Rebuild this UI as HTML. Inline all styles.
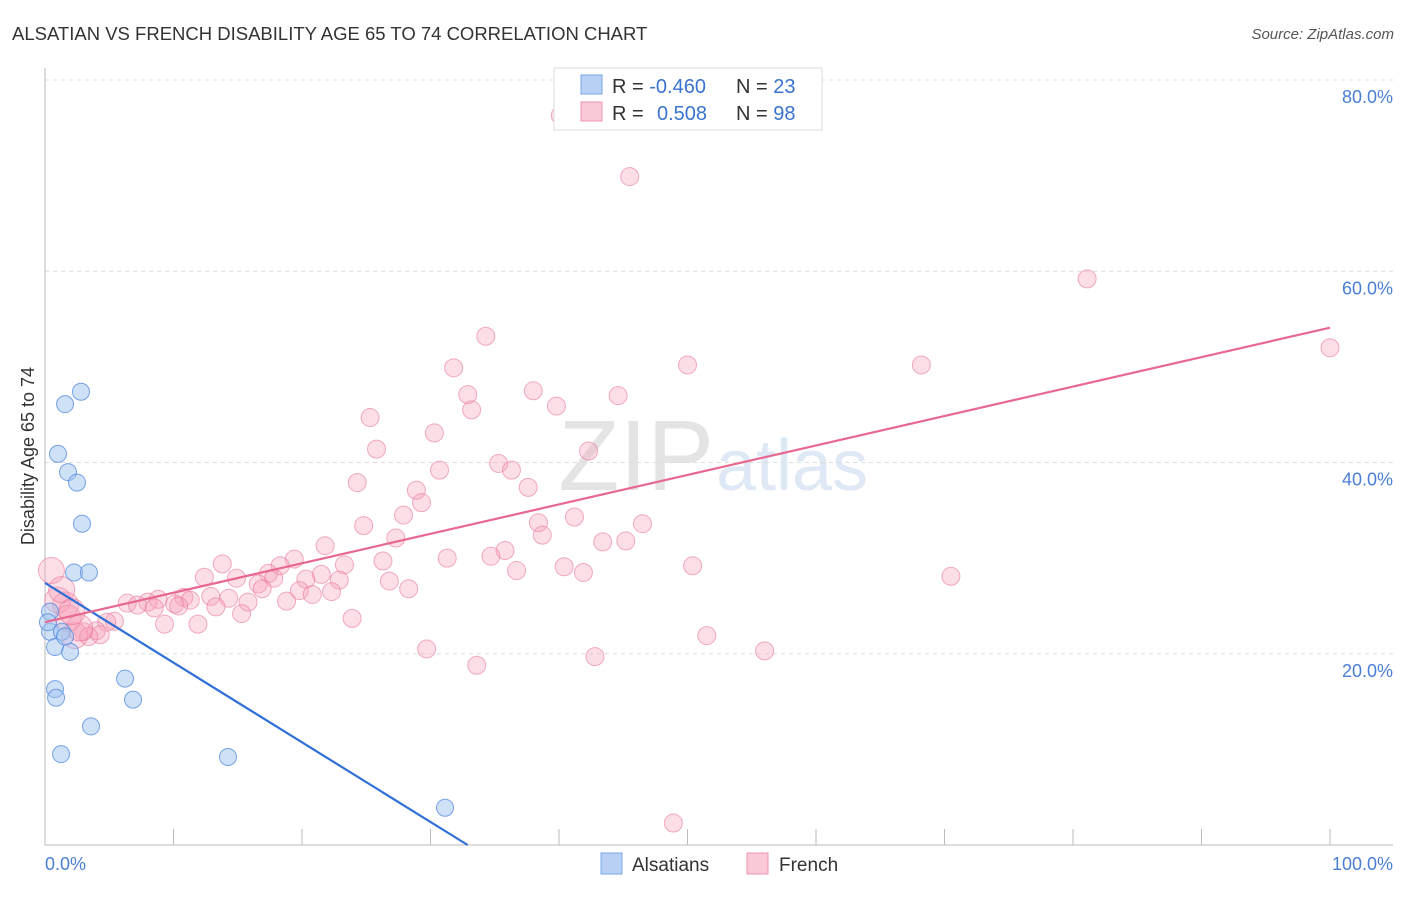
<!DOCTYPE html>
<html><head><meta charset="utf-8"><style>
body{margin:0;background:#fff;font-family:"Liberation Sans",sans-serif}
svg text{font-family:"Liberation Sans",sans-serif}
</style></head><body>
<svg id="chart" width="1406" height="892" xmlns="http://www.w3.org/2000/svg">
<text x="12" y="40" font-size="18.5" fill="#333">ALSATIAN VS FRENCH DISABILITY AGE 65 TO 74 CORRELATION CHART</text>
<text x="1394" y="39" font-size="15" fill="#555" font-style="italic" text-anchor="end">Source: ZipAtlas.com</text>
<text x="714" y="490" font-size="100" fill="#e4e4e4" text-anchor="end" font-family="Liberation Serif">ZIP</text>
<text x="716" y="490" font-size="72" fill="#dfe8f5">atlas</text>
<g id="grid"></g><g id="axes"></g>
<g id="pts-pink"></g><g id="pts-blue"></g><g id="lines"></g>
<text transform="translate(34,456) rotate(-90)" font-size="18" fill="#333" text-anchor="middle">Disability Age 65 to 74</text>
<text x="45" y="870" font-size="18" fill="#4a7fd4">0.0%</text>
<text x="1393" y="870" font-size="18" fill="#4a7fd4" text-anchor="end">100.0%</text>
<g>
<rect x="554" y="68" width="268" height="62" fill="#fff" stroke="#ddd"/>
<rect x="581" y="75" width="21" height="19" fill="#b7d0f4" stroke="#7aa6e6"/>
<rect x="581" y="102" width="21" height="19" fill="#fac8d6" stroke="#f096b2"/>
<text x="612" y="93" font-size="20" fill="#333">R = <tspan fill="#3a73d0">-0.460</tspan></text>
<text x="736" y="93" font-size="20" fill="#333">N = <tspan fill="#3a73d0">23</tspan></text>
<text x="612" y="120" font-size="20" fill="#333">R = <tspan fill="#3a73d0" x="657">0.508</tspan></text>
<text x="736" y="120" font-size="20" fill="#333">N = <tspan fill="#3a73d0">98</tspan></text>
</g>
<g>
<rect x="601" y="853" width="21" height="21" fill="#b7d0f4" stroke="#7aa6e6"/>
<text x="632" y="871" font-size="19" fill="#333">Alsatians</text>
<rect x="747" y="853" width="21" height="21" fill="#fac8d6" stroke="#f096b2"/>
<text x="779" y="871" font-size="19" fill="#333">French</text>
</g>
</svg>
<script>
const yTicks=[20,40,60,80];
const yTickLabels=["20.0%","40.0%","60.0%","80.0%"];
const xTicks=[10,20,30,40,50,60,70,80,90,100];
const blueX=[1.56,2.8,1.01,1.79,2.49,2.88,2.26,3.42,0.39,0.39,1.32,0.78,1.95,0.78,0.86,6.23,6.85,3.58,1.25,14.24,31.13,0.23,1.56];
const blueY=[46.1,47.4,40.9,39.0,37.9,33.6,28.5,28.5,24.4,22.3,22.3,20.7,20.2,16.3,15.4,17.4,15.2,12.4,9.5,9.2,3.9,23.3,21.8];
const pinkX=[45.5,81.1,100,34.3,50,68.2,31.8,38,44.6,32.9,33.2,39.8,25.3,25.8,30.3,42.3,35.3,36.3,30.7,24.3,37.6,28.9,29.3,27.9,41.2,38.4,46.5,24.8,38.7,27.3,45.2,43.4,21.8,35.8,34.7,31.3,19.4,13.8,23.3,26.3,40.4,50.4,36.7,41.9,18.3,17.4,21.5,70.5,12.4,14.9,20.3,17.8,22.9,26.8,16.6,16.9,28.3,22.3,19.8,20.8,10.8,12.9,8.8,14.3,11.3,8.0,6.4,10.1,15.8,18.8,7.2,8.5,13.3,10.4,23.9,15.3,9.3,11.9,5.4,4.8,4.0,3.0,4.3,2.3,3.4,51.5,29.7,56.0,42.8,33.6,48.9,1.6,0.5,1.0,1.8,2.7,1.3,2.1,40.1];
const pinkY=[69.9,59.2,52.0,53.2,50.2,50.2,49.9,47.5,47.0,47.1,45.5,45.9,44.7,41.4,43.1,41.2,39.9,39.2,39.2,37.9,37.4,37.1,35.8,34.5,34.3,33.7,33.6,33.4,32.4,32.1,31.8,31.7,31.3,30.8,30.2,30.0,29.9,29.4,29.3,29.7,29.1,29.2,28.7,28.5,29.2,28.4,28.3,28.1,28.0,27.9,27.8,27.9,27.7,27.6,27.3,26.8,26.8,26.5,26.6,26.2,25.9,26.0,25.7,25.8,25.6,25.4,25.3,25.2,25.4,25.5,25.1,24.8,24.9,25.0,23.7,24.2,23.1,23.1,23.4,23.3,22.4,22.3,22.0,21.9,21.8,21.9,20.5,20.3,19.7,18.8,2.3,25.1,28.7,25.6,23.7,22.7,26.7,24.4,76.3];
const blueLine=[27.4,-0.833];
const pinkLine=[23.3,0.308];
const X=v=>45+v*12.85, Y=v=>845-v*9.5625;
const NS="http://www.w3.org/2000/svg";
function mk(t,a,p){const e=document.createElementNS(NS,t);for(const k in a)e.setAttribute(k,a[k]);p.appendChild(e);return e;}
const grid=document.getElementById('grid'),axes=document.getElementById('axes');
yTicks.forEach((t,i)=>{
 const l=mk('line',{x1:45,x2:1393,y1:Y(t),y2:Y(t),stroke:'#ddd','stroke-dasharray':'4,4'},grid);
 
 
 const tx=mk('text',{x:1393,y:Y(t)+23,'font-size':18,fill:'#4a7fd4','text-anchor':'end'},grid);
 tx.textContent=yTickLabels[i];
 
 
});
const ax=mk('path',{d:'M45 68V845H1393',fill:'none',stroke:'#bbb'},axes);


xTicks.forEach(t=>{
 const l=mk('line',{x1:X(t),x2:X(t),y1:829,y2:845,stroke:'#bbb'},axes);
 
 
});
const gp=document.getElementById('pts-pink');
pinkX.forEach((x,i)=>{
 const r=(x<3)?13:9;
 const c=mk('circle',{cx:X(x),cy:Y(pinkY[i]),r:r,fill:'rgba(247,160,185,0.35)',stroke:'rgba(232,120,155,0.6)','stroke-width':1},gp);
 
 
});
const gb=document.getElementById('pts-blue');
blueX.forEach((x,i)=>{
 const c=mk('circle',{cx:X(x),cy:Y(blueY[i]),r:8.5,fill:'rgba(160,195,240,0.5)',stroke:'rgba(80,135,220,0.75)','stroke-width':1},gb);
 
 
});
const gl=document.getElementById('lines');
const bx2=-blueLine[0]/blueLine[1];
const bl=mk('line',{x1:X(0),y1:Y(blueLine[0]),x2:X(bx2),y2:Y(0),stroke:'#2f6fd6','stroke-width':2.2},gl);


const pl=mk('line',{x1:X(0),y1:Y(pinkLine[0]),x2:X(100),y2:Y(pinkLine[0]+100*pinkLine[1]),stroke:'#e8688f','stroke-width':2.2},gl);


</script>
</body></html>
